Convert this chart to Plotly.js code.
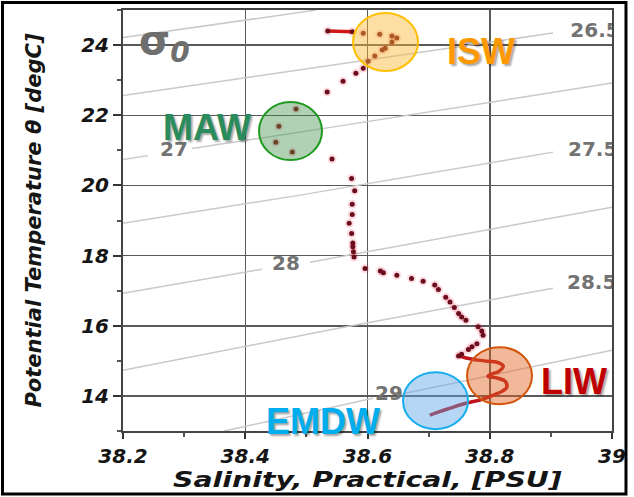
<!DOCTYPE html>
<html>
<head>
<meta charset="utf-8">
<script src="https://cdn.plot.ly/plotly-3.0.1.min.js"></script>
<style>
  html, body { margin: 0; padding: 0; background: #ffffff; }
  #chart { width: 634px; height: 497px; }
  .xtitle { transform-box: fill-box; transform-origin: 50% 50%; transform: scaleX(1.35); }
</style>
</head>
<body>
<div id="chart"></div>
<script>
// CTD profile, potential temperature vs practical salinity
const topS = [38.535, 38.545, 38.555, 38.565, 38.575];
const topT = [24.40, 24.40, 24.39, 24.39, 24.38];

const profS = [38.535, 38.575, 38.593, 38.620, 38.640, 38.648, 38.640, 38.629, 38.624, 38.612,
               38.601, 38.593, 38.581, 38.560, 38.534, 38.542, 38.574, 38.579, 38.575, 38.575,
               38.570, 38.574, 38.576, 38.576, 38.577, 38.578, 38.596, 38.621, 38.626, 38.648,
               38.672, 38.691, 38.710, 38.716, 38.728, 38.735, 38.742, 38.749, 38.754, 38.761,
               38.781, 38.787, 38.789, 38.779, 38.771, 38.765, 38.754, 38.749];
const profT = [24.40, 24.38, 24.34, 24.31, 24.26, 24.20, 24.09, 23.91, 23.86, 23.69,
               23.54, 23.34, 23.20, 22.97, 22.66, 20.75, 20.20, 19.85, 19.46, 19.17,
               18.92, 18.63, 18.36, 18.25, 18.11, 17.96, 17.63, 17.56, 17.51, 17.44,
               17.35, 17.27, 17.16, 17.03, 16.81, 16.68, 16.52, 16.35, 16.25, 16.16,
               15.97, 15.85, 15.73, 15.49, 15.40, 15.32, 15.19, 15.14];

const mawS = [38.483, 38.455, 38.450, 38.477];
const mawT = [22.18, 21.69, 21.23, 20.95];

const botS = [38.749, 38.761, 38.771, 38.781, 38.796, 38.812, 38.822, 38.815, 38.802, 38.797, 38.812,
              38.825, 38.828, 38.820, 38.810, 38.797, 38.784, 38.768, 38.751, 38.735, 38.719, 38.702];
const botT = [15.14, 15.08, 15.05, 15.02, 14.99, 14.96, 14.85, 14.70, 14.62, 14.56, 14.51,
              14.42, 14.25, 14.13, 14.05, 13.96, 13.88, 13.82, 13.74, 13.65, 13.56, 13.45];

// sigma-0 isopycnals (null = gap left for the label)
const iso26S  = [38.2, 38.3996, 38.5157];          const iso26T  = [24.214, 24.713, 24.998];
const iso265S = [38.2, 38.4896, 38.9035];          const iso265T = [22.560, 23.287, 24.342];
const iso27S  = [38.2, 38.2409, null, 38.3129, 38.4896, 39.0];
const iso27T  = [20.735, 20.849, null, 21.049, 21.519, 22.916];
const iso275S = [38.2, 38.4896, 38.9035];          const iso275T = [18.924, 19.723, 20.949];
const iso28S  = [38.2, 38.4274, null, 38.5059, 39.0];
const iso28T  = [16.928, 17.613, null, 17.812, 19.381];
const iso285S = [38.2, 38.5500, 38.9035];          const iso285T = [14.733, 15.920, 17.071];
const iso29S  = [38.3652, 38.609, null, 38.6614, 39.0];
const iso29T  = [13.0, 13.934, null, 14.077, 15.303];

const isoLabels = ['26.5', '27', '27.5', '28', '28.5', '29'];
const isoLabelS = [38.9722, 38.2834, 38.9684, 38.4667, 38.9667, 38.6352];
const isoLabelT = [24.385, 20.970, 20.992, 17.741, 17.199, 14.034];

// water masses
const wmNames  = ['ISW', 'MAW', 'LIW', 'EMDW'];
const wmLabelS = [38.7857, 38.3382, 38.9378, 38.5264];
const wmLabelT = [23.829, 21.648, 14.405, 13.279];
const wmColors = ['#ff9900', '#2a8c5c', '#c00000', '#00aeef'];
const wmBoxS0 = [38.5763, 38.4225, 38.7628, 38.6581];
const wmBoxS1 = [38.6826, 38.5256, 38.8691, 38.7644];
const wmBoxT0 = [23.259, 20.721, 13.763, 13.051];
const wmBoxT1 = [24.912, 22.375, 15.389, 14.676];
const wmFill = ['rgba(250,185,50,0.45)', 'rgba(60,140,70,0.40)', 'rgba(225,100,30,0.45)', 'rgba(90,165,230,0.45)'];
const wmLine = ['#ffbf00', '#1e9a1e', '#d2560e', '#18aeee'];

const isoColor = '#c9c9c9';
function isoTrace(x, y) {
  return {x: x, y: y, mode: 'lines', type: 'scatter', hoverinfo: 'skip',
          connectgaps: false, line: {color: isoColor, width: 1.5}};
}

const traces = [
  isoTrace(iso26S, iso26T), isoTrace(iso265S, iso265T), isoTrace(iso27S, iso27T),
  isoTrace(iso275S, iso275T), isoTrace(iso28S, iso28T), isoTrace(iso285S, iso285T),
  isoTrace(iso29S, iso29T),
  {x: isoLabelS, y: isoLabelT, text: isoLabels, mode: 'text', type: 'scatter',
   textposition: 'middle center', cliponaxis: true,
   textfont: {family: 'DejaVu Sans', size: 20, weight: 'bold', color: '#737373'}},
  // soft halo around the bottle samples
  {x: profS.concat(mawS), y: profT.concat(mawT), mode: 'markers', type: 'scatter',
   marker: {size: 9, color: 'rgba(235,40,70,0.16)'}},
  {x: topS, y: topT, mode: 'lines', type: 'scatter', line: {color: '#d01818', width: 3.5}},
  {x: botS, y: botT, mode: 'lines', type: 'scatter', line: {color: '#c0141c', width: 3.5, shape: 'spline'}},
  {x: profS, y: profT, mode: 'markers', type: 'scatter', marker: {size: 5, color: '#6b0d1d'}},
  {x: mawS, y: mawT, mode: 'markers', type: 'scatter', marker: {size: 5, color: '#8a1414'}}
];

const shapes = wmNames.map((n, i) => ({
  type: 'circle', xref: 'x', yref: 'y', layer: 'above',
  x0: wmBoxS0[i], x1: wmBoxS1[i], y0: wmBoxT0[i], y1: wmBoxT1[i],
  fillcolor: wmFill[i], line: {color: wmLine[i], width: 2}
}));
// outer frame of the figure
shapes.push({type: 'rect', xref: 'paper', yref: 'paper', layer: 'above',
  x0: -0.2464, x1: 1.0286, y0: -0.1496, y1: 1.0178, line: {color: '#000000', width: 3}});

const annotations = wmNames.map((n, i) => ({
  x: wmLabelS[i], y: wmLabelT[i], xref: 'x', yref: 'y', text: n, showarrow: false,
  xanchor: 'center', yanchor: 'middle',
  font: {family: 'Liberation Sans', size: 36, weight: 'bold', color: wmColors[i],
         shadow: '2px 2px 2px rgba(0,0,0,0.35)'}
}));
annotations.push({x: 38.2230, y: 24.05, xref: 'x', yref: 'y', xanchor: 'left', yanchor: 'middle',
  showarrow: false, text: 'σ<sub><i>0</i></sub>',
  font: {family: 'DejaVu Sans', size: 40, weight: 'bold', color: '#6e6e6e'}});

const tickFont = {family: 'DejaVu Sans', size: 20, weight: 'bold', style: 'italic', color: '#151515'};
const titleFont = {family: 'DejaVu Sans', size: 21, weight: 'bold', style: 'italic', color: '#151515'};

const layout = {
  width: 634, height: 497,
  margin: {l: 123, r: 22, t: 10, b: 66},
  paper_bgcolor: '#ffffff', plot_bgcolor: '#ffffff',
  showlegend: false,
  xaxis: {
    range: [38.2, 39], tick0: 38.2, dtick: 0.2,
    ticks: 'outside', ticklen: 6, tickwidth: 2, tickcolor: '#333',
    showgrid: true, gridcolor: '#5a5a5a', gridwidth: 1.5,
    showline: true, linecolor: '#444', linewidth: 2, mirror: true, zeroline: false,
    tickfont: tickFont,
    minor: {dtick: 0.1, ticks: 'outside', ticklen: 4, tickcolor: '#555', showgrid: false},
    title: {text: 'Salinity, Practical, [PSU]', font: titleFont, standoff: 4}
  },
  yaxis: {
    range: [13, 25], tick0: 14, dtick: 2,
    ticks: 'outside', ticklen: 8, tickwidth: 2, tickcolor: '#333',
    showgrid: true, gridcolor: '#5a5a5a', gridwidth: 1.5,
    showline: true, linecolor: '#444', linewidth: 2, mirror: true, zeroline: false,
    tickfont: tickFont,
    minor: {dtick: 1, ticks: 'outside', ticklen: 4, tickcolor: '#555', showgrid: false},
    title: {text: 'Potential Temperature θ [degC]', font: titleFont, standoff: 34},
    automargin: true
  },
  shapes: shapes,
  annotations: annotations
};

Plotly.newPlot('chart', traces, layout, {staticPlot: true, displayModeBar: false});
</script>
</body>
</html>
